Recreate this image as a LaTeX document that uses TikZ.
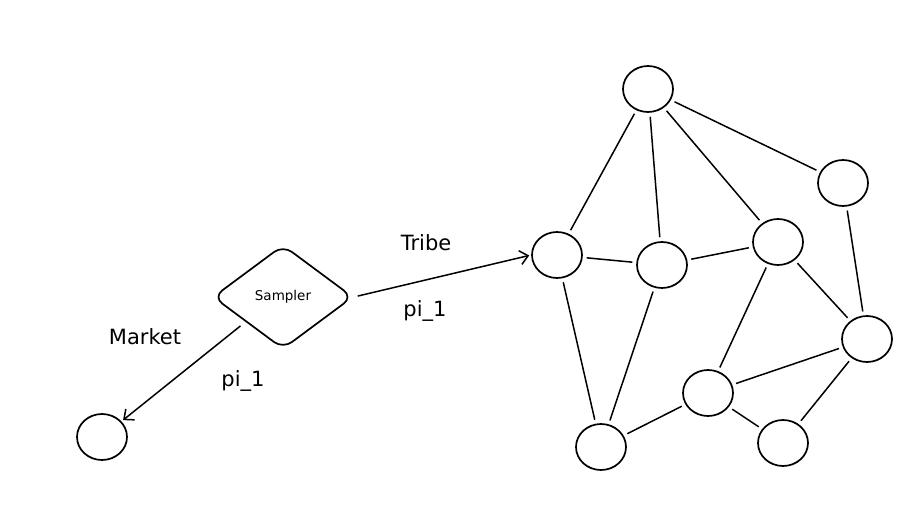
\documentclass[tikz,border=0pt]{standalone}
\usepackage{fontspec}
\setmainfont{DejaVu Sans}
\usetikzlibrary{shapes.geometric,arrows.meta}
\begin{document}
\begin{tikzpicture}[x=1pt,y=-1pt,
  vertex/.style={draw,ellipse,line width=1.7pt,minimum width=50pt,minimum height=46pt,inner sep=0pt},
  edge/.style={line width=1.5pt,shorten <=4pt,shorten >=4pt},
  arr/.style={line width=1.5pt,-{Straight Barb[length=8pt,width=14pt]},shorten <=4pt,shorten >=2pt},
  lbl/.style={font=\fontsize{21}{24}\selectfont,inner sep=0pt}]
\useasboundingbox (0,0) rectangle (918,526);
% vertices
\node[vertex] (top) at (648,89) {};
\node[vertex] (n2) at (843,183) {};
\node[vertex] (l) at (557,255) {};
\node[vertex] (m) at (662,265) {};
\node[vertex] (r) at (778,242) {};
\node[vertex] (rr) at (867,339) {};
\node[vertex] (c) at (708,393) {};
\node[vertex] (bl) at (601,447) {};
\node[vertex] (br) at (783,443) {};
\node[vertex] (mk) at (102,437) {};
% sampler
\node[draw,diamond,line width=1.7pt,minimum width=140pt,minimum height=104pt,rounded corners=11pt,inner sep=0pt,font=\fontsize{13.5}{15}\selectfont] (s) at (283,297) {Sampler};
% edges
\draw[edge] (top) -- (l);
\draw[edge] (top) -- (m);
\draw[edge] (top) -- (r);
\draw[edge] (top) -- (n2);
\draw[edge] (l) -- (m);
\draw[edge] (m) -- (r);
\draw[edge] (l) -- (bl);
\draw[edge] (m) -- (bl);
\draw[edge] (r) -- (c);
\draw[edge] (r) -- (rr);
\draw[edge] (n2) -- (rr);
\draw[edge] (rr) -- (c);
\draw[edge] (c) -- (bl);
\draw[edge] (c) -- (br);
\draw[edge] (rr) -- (br);
% arrows
\draw[arr] (s.east) -- (l.west);
\draw[arr] (s.south west) ++(-4,0) coordinate (sw) -- (mk);
\node[lbl] (tribe) at (426,243) {Tribe};
\node[lbl] (pa) at (425,311) {pi\_1};
\node[lbl] (market) at (145,337) {Market};
\node[lbl] (pb) at (243,381) {pi\_1};
\end{tikzpicture}
\end{document}
